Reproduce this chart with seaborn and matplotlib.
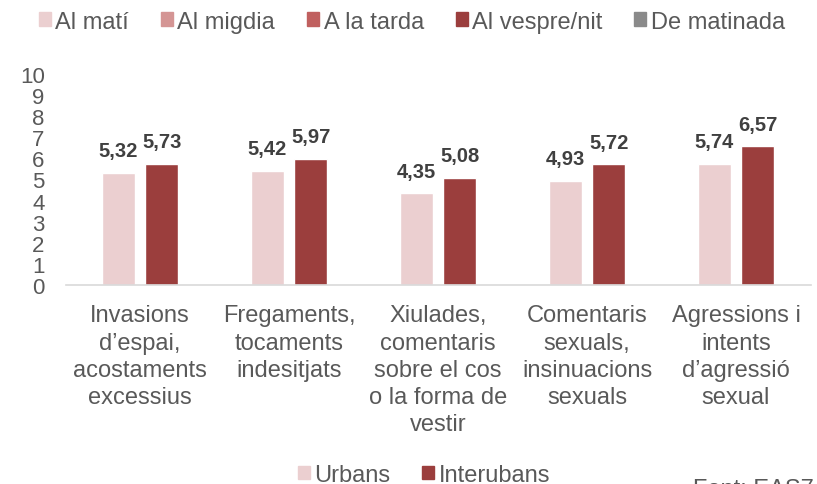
import matplotlib
matplotlib.use('Agg')
import matplotlib.pyplot as plt
import pandas as pd
import seaborn as sns
from matplotlib.patches import Patch

# -----------------------------------------------------------------------------
# data
categories = [
    'Invasions\nd’espai,\nacostaments\nexcessius',
    'Fregaments,\ntocaments\nindesitjats',
    'Xiulades,\ncomentaris\nsobre el cos\no la forma de\nvestir',
    'Comentaris\nsexuals,\ninsinuacions\nsexuals',
    'Agressions i\nintents\nd’agressió\nsexual',
]
series = ['Urbans', 'Interubans']
urbans = [5.32, 5.42, 4.35, 4.93, 5.74]
interubans = [5.73, 5.97, 5.08, 5.72, 6.57]
yticks = list(range(0, 11))

top_legend = ['Al matí', 'Al migdia', 'A la tarda', 'Al vespre/nit', 'De matinada']
top_colors = ['#EBCFD0', '#D49594', '#C0605F', '#9B3E3D', '#8A8A8A']
bar_colors = ['#EBCFD0', '#9B3E3D']
source = 'Font: EAS7'

df = pd.DataFrame({
    'cat': categories * 2,
    'tipus': [series[0]] * len(categories) + [series[1]] * len(categories),
    'valor': urbans + interubans,
})

# -----------------------------------------------------------------------------
# plot
sns.set_style('white')
plt.rcParams['font.family'] = ['Liberation Sans', 'DejaVu Sans']
grey = '#595959'

fig = plt.figure(figsize=(8.17, 4.85), dpi=100)
ax = fig.add_axes([65.5 / 817, 1 - 286 / 485, 745 / 817, 211 / 485])
sns.barplot(data=df, x='cat', y='valor', hue='tipus', palette=bar_colors,
            saturation=1, width=0.58, gap=0.22, legend=False, ax=ax)

for cont in ax.containers:
    for bar, val in zip(cont, cont.datavalues):
        ax.annotate(f'{val:.2f}'.replace('.', ','),
                    (bar.get_x() + bar.get_width() / 2, bar.get_height()),
                    xytext=(0, 12), textcoords='offset points',
                    ha='center', va='baseline', fontsize=14.5,
                    fontweight='bold', color='#404040')

ax.set(xlabel='', ylabel='', ylim=(0, 10), xlim=(-0.5, len(categories) - 0.5))
ax.set_yticks(yticks)
ax.set_yticklabels([str(i) for i in yticks])
ax.tick_params(axis='y', length=0, pad=15, labelsize=16, labelcolor=grey)
ax.tick_params(axis='x', length=0, pad=14, labelsize=17, labelcolor=grey)
for lbl in ax.get_xticklabels():
    lbl.set_linespacing(1.3)
    lbl.set_multialignment('center')
for s in ['top', 'right', 'left']:
    ax.spines[s].set_visible(False)
ax.spines['bottom'].set_color('#D9D9D9')
ax.spines['bottom'].set_linewidth(1.2)

# top legend (time of day)
h_top = [Patch(color=c, label=l) for c, l in zip(top_colors, top_legend)]
fig.legend(handles=h_top, loc='upper center', bbox_to_anchor=(412 / 817, 1.02),
           ncol=5, frameon=False, fontsize=17, labelcolor=grey,
           handlelength=0.5, handleheight=0.5, handletextpad=0.2,
           columnspacing=1.35)

# bottom legend (series)
h_bot = [Patch(color=c, label=l) for c, l in zip(bar_colors, series)]
fig.legend(handles=h_bot, loc='upper center', bbox_to_anchor=(424 / 817, 0.085),
           ncol=2, frameon=False, fontsize=17, labelcolor=grey,
           handlelength=0.5, handleheight=0.5, handletextpad=0.2,
           columnspacing=1.35)

fig.text(693 / 817, 1 - 479 / 485, source, ha='left', va='top',
         fontsize=17, color=grey)

fig.savefig('out.png', dpi=100)
